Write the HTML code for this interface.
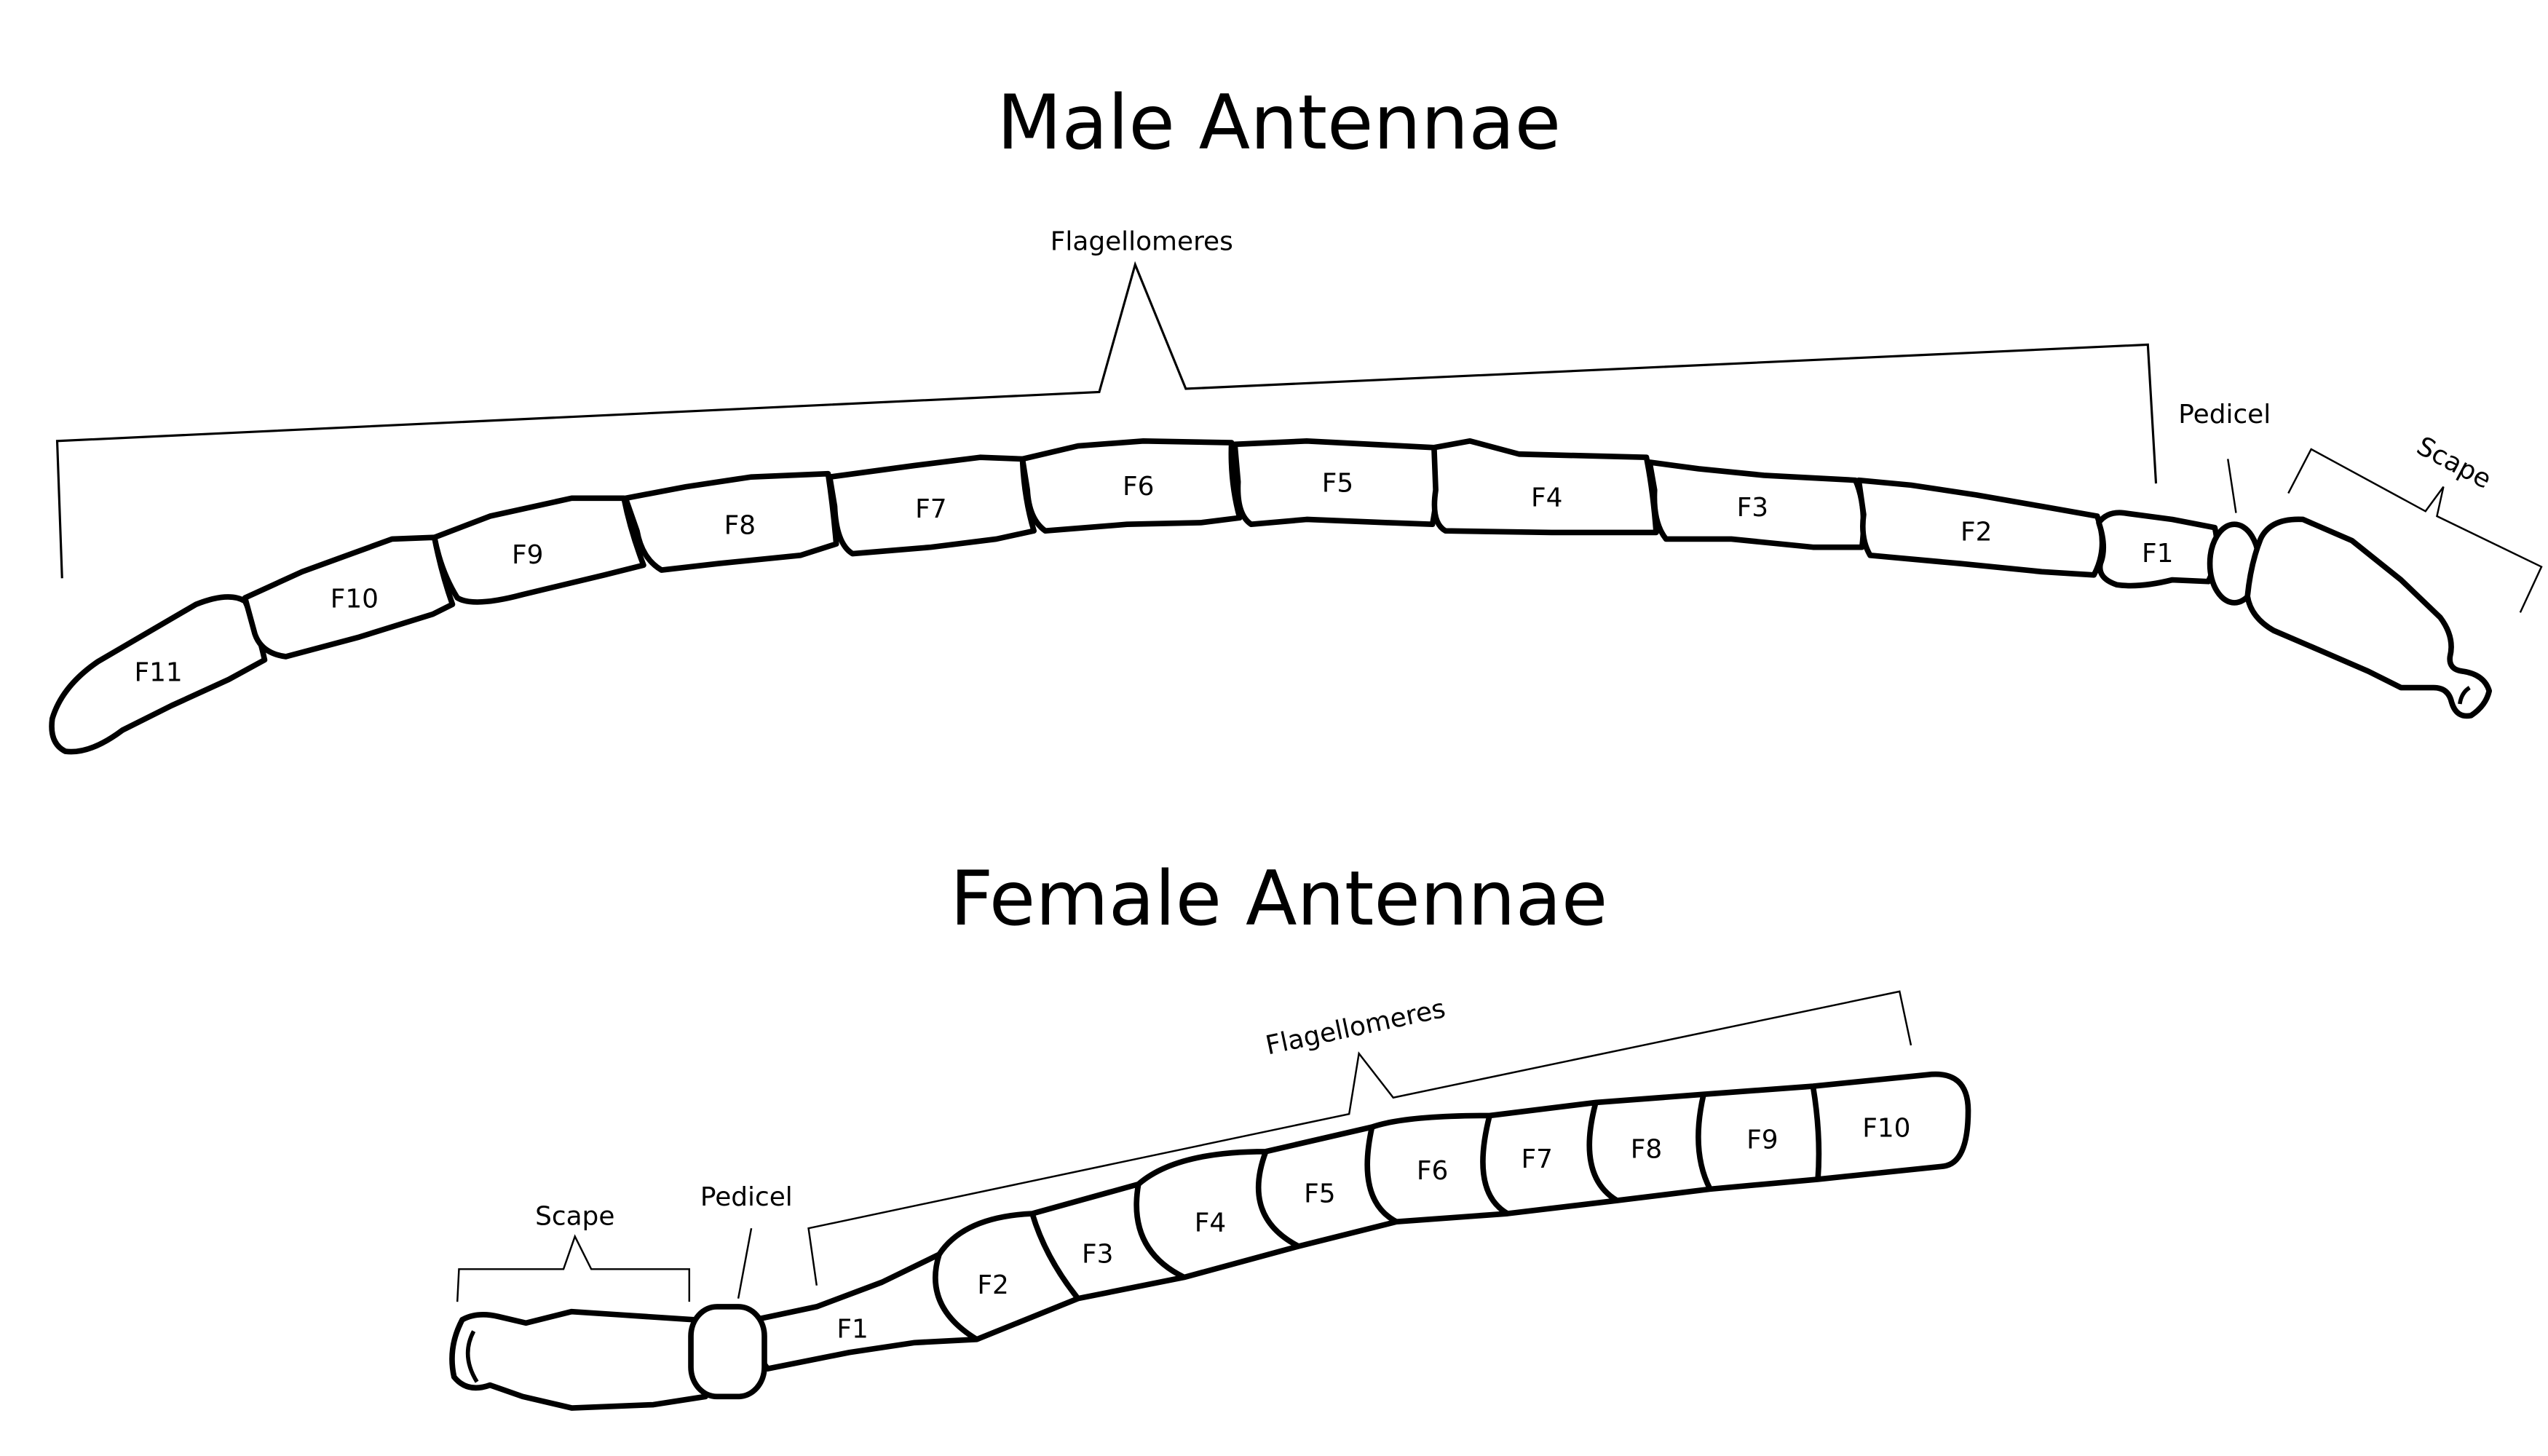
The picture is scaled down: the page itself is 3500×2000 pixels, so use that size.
<!DOCTYPE html>
<html><head><meta charset="utf-8"><style>
html,body{margin:0;padding:0;background:#fff;}
svg{display:block;}
text{font-family:"DejaVu Sans","Liberation Sans",sans-serif;fill:#000;}
.s{fill:#fff;stroke:#000;stroke-width:3.4;stroke-linejoin:round;}
.b{fill:none;stroke:#000;stroke-width:1.1;}
.l{font-size:16px;text-anchor:middle;}
.t{font-size:46px;text-anchor:middle;}
</style></head><body>
<svg width="3500" height="2000" viewBox="0 0 1560 891.4" xmlns="http://www.w3.org/2000/svg">
<text class="t" x="783" y="91">Male Antennae</text>
<text class="t" x="783" y="566">Female Antennae</text>

<!-- male brackets -->
<polyline class="b" style="stroke-width:1.4" points="38,354 35,270 673,240 695,162 726,238 1315,211 1320,296"/>
<text class="l" x="699" y="153">Flagellomeres</text>
<line class="b" x1="1364" y1="281" x2="1369" y2="314"/>
<text class="l" x="1362" y="259">Pedicel</text>
<polyline class="b" points="1401,302 1415,275 1485,313 1496,298 1492,316 1556,347 1543,375"/>
<text class="l" transform="translate(1500,288) rotate(28)">Scape</text>

<!-- male segments -->
<path class="s" d="M40,460 Q30,455 32,440 Q38,420 60,405 L120,370 Q140,362 150,368 Q158,385 162,404 L140,416 L105,432 L75,447 Q55,462 40,460 Z"/>
<path class="s" d="M150,366 L185,350 L240,330 L266,329 Q270,350 277,370 L265,376 L220,390 L175,402 Q160,400 156,388 Z"/>
<path class="s" d="M266,329 L300,316 L350,305 L382,305 Q386,325 394,346 L370,352 L320,364 Q290,372 280,366 Q270,350 266,329 Z"/>
<path class="s" d="M383,305 L420,298 L460,292 L507,290 Q510,310 512,333 L490,340 L440,345 L405,349 Q393,342 390,325 Z"/>
<path class="s" d="M508,292 L560,285 L600,280 L626,281 Q627,305 633,325 L610,330 L570,335 L522,339 Q512,333 511,310 Z"/>
<path class="s" d="M626,281 L660,273 L700,270 L754,271 Q753,295 759,317 L735,320 L690,321 L640,325 Q630,318 629,300 Z"/>
<path class="s" d="M756,272 L800,270 L878,274 Q882,295 877,321 L850,320 L800,318 L766,321 Q757,315 758,295 Z"/>
<path class="s" d="M878,274 L900,270 L930,278 L1008,280 Q1012,300 1014,326 L950,326 L885,325 Q876,320 879,300 Z"/>
<path class="s" d="M1010,283 L1040,287 L1080,291 L1136,294 Q1143,310 1140,335 L1110,335 L1060,330 L1020,330 Q1012,320 1013,300 Z"/>
<path class="s" d="M1138,294 L1170,297 L1210,303 L1250,310 L1284,316 Q1291,335 1282,352 L1250,350 L1200,345 L1145,340 Q1139,330 1141,315 Z"/>
<path class="s" d="M1285,320 Q1290,313 1300,314 L1330,318 L1356,323 Q1360,340 1352,356 L1330,355 Q1310,360 1296,358 Q1284,354 1286,345 Q1290,335 1285,320 Z"/>
<ellipse class="s" cx="1368" cy="345" rx="15" ry="24"/>
<path class="s" d="M1384,330 Q1390,317 1410,318 L1440,331 L1470,355 L1494,378 Q1503,390 1500,402 Q1499,410 1508,411 Q1521,413 1524,423 Q1522,432 1513,438 Q1504,440 1501,430 Q1499,421 1490,421 L1470,421 L1450,411 L1420,398 L1392,386 Q1378,378 1376,365 Q1378,345 1384,330 Z"/>
<path d="M1512,421 Q1507,424 1506,431" fill="none" stroke="#000" stroke-width="2.5"/>

<g class="l">
<text class="l" x="97" y="417">F11</text>
<text class="l" x="217" y="372">F10</text>
<text class="l" x="323" y="345">F9</text>
<text class="l" x="453" y="327">F8</text>
<text class="l" x="570" y="317">F7</text>
<text class="l" x="697" y="303">F6</text>
<text class="l" x="819" y="301">F5</text>
<text class="l" x="947" y="310">F4</text>
<text class="l" x="1073" y="316">F3</text>
<text class="l" x="1210" y="331">F2</text>
<text class="l" x="1321" y="344">F1</text>
</g>

<!-- female brackets -->
<polyline class="b" points="280,797 281,777 345,777 352,757 362,777 422,777 422,797"/>
<text class="l" x="352" y="750">Scape</text>
<line class="b" x1="460" y1="752" x2="452" y2="795"/>
<text class="l" x="457" y="738">Pedicel</text>
<polyline class="b" points="500,787 495,752 826,682 832,645 853,672 1163,607 1170,640"/>
<text class="l" transform="translate(831,634) rotate(-12)">Flagellomeres</text>

<!-- female segments -->
<path class="s" d="M283,808 Q292,803 305,806 L322,810 L350,803 L380,805 L425,808 Q432,830 432,855 L400,860 L350,862 L320,855 L300,848 Q286,853 278,843 Q274,825 283,808 Z"/>
<path d="M290,815 Q282,830 292,846" fill="none" stroke="#000" stroke-width="2.5"/>
<path class="s" d="M462,808 L500,800 L540,785 L575,768 Q590,745 632,743 L697,725 Q720,705 775,705 L840,690 Q860,683 912,683 L977,675 L1043,670 L1110,665 L1180,658 Q1205,655 1205,680 Q1205,712 1190,714 L1113,722 L1047,728 L990,735 L923,743 L855,748 L795,763 L725,782 L660,795 L598,820 L560,822 L520,828 L470,838 Q460,825 462,808 Z"/>
<path class="b" style="stroke-width:3.4" d="M575,768 Q565,800 598,820 M632,743 Q640,770 660,795 M697,725 Q690,765 725,782 M775,705 Q760,745 795,763 M840,690 Q830,735 855,748 M912,683 Q900,730 923,743 M977,675 Q965,720 990,735 M1043,670 Q1035,705 1047,728 M1110,665 Q1115,695 1113,722"/>
<rect class="s" x="423" y="800" width="45" height="55" rx="16" ry="18"/>

<text class="l" x="522" y="819">F1</text>
<text class="l" x="608" y="792">F2</text>
<text class="l" x="672" y="773">F3</text>
<text class="l" x="741" y="754">F4</text>
<text class="l" x="808" y="736">F5</text>
<text class="l" x="877" y="722">F6</text>
<text class="l" x="941" y="715">F7</text>
<text class="l" x="1008" y="709">F8</text>
<text class="l" x="1079" y="703">F9</text>
<text class="l" x="1155" y="696">F10</text>
</svg>
</body></html>
